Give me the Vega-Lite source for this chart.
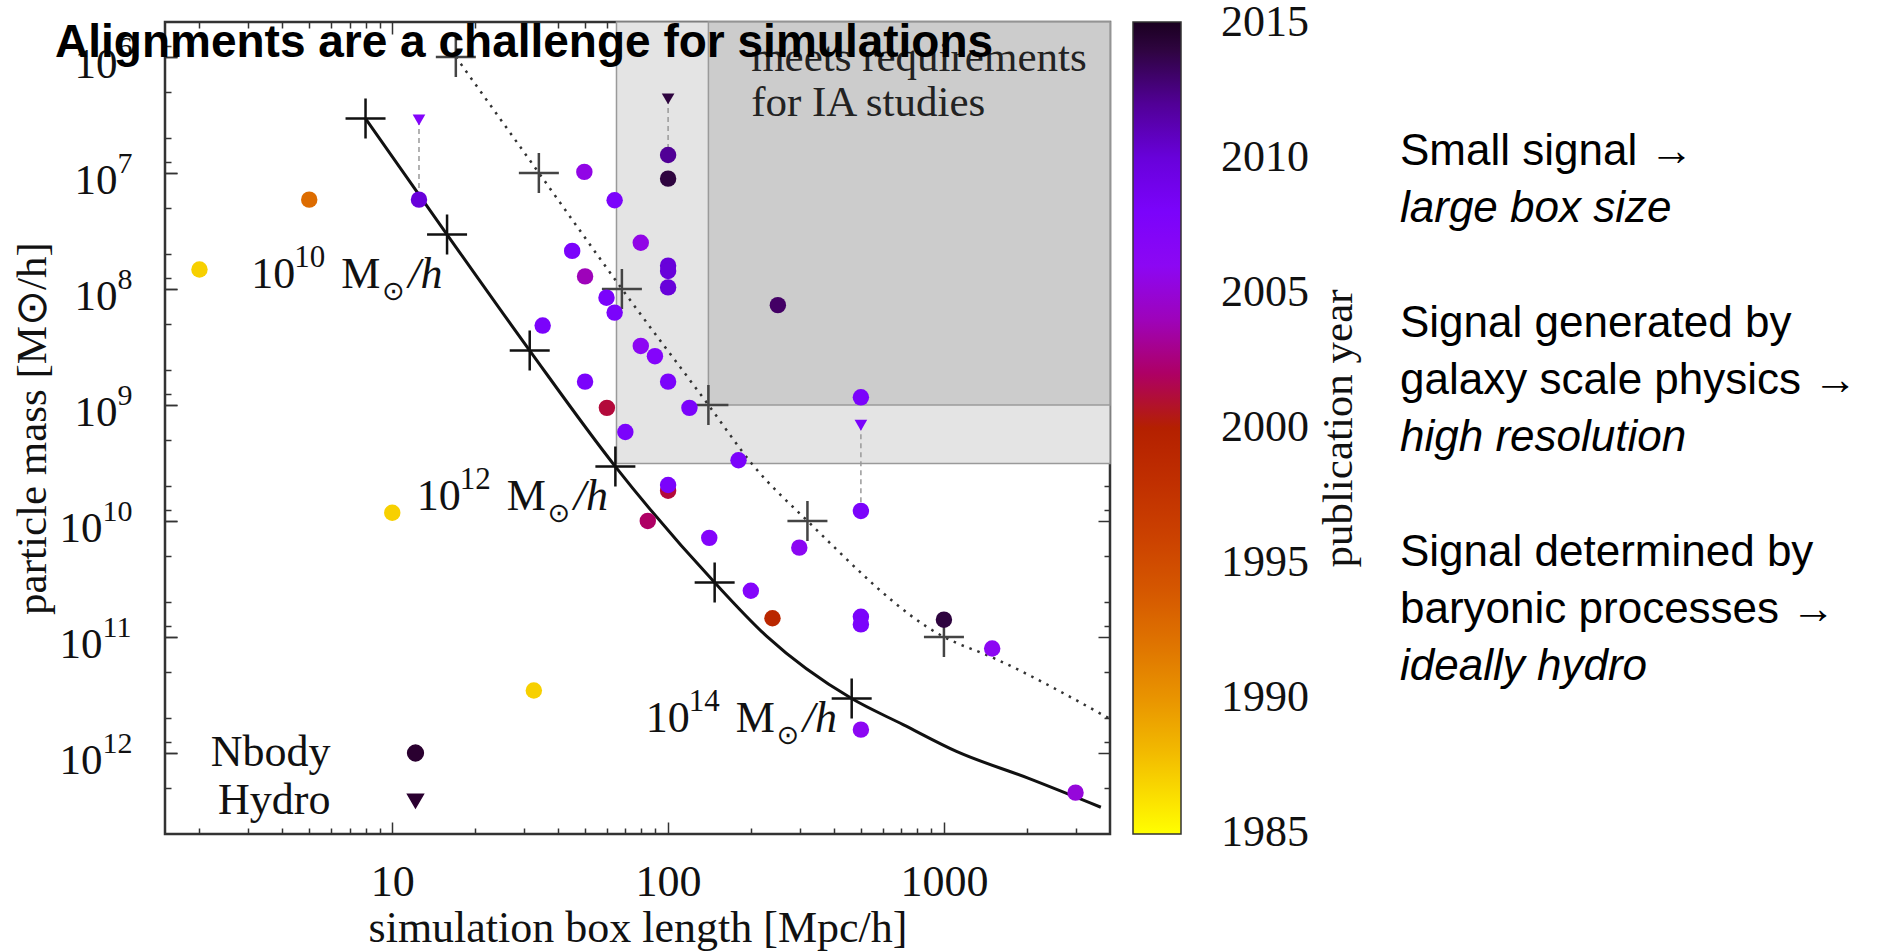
{
  "$schema": "https://vega.github.io/schema/vega-lite/v6.json",
  "background": "white",
  "padding": {"left": 9, "top": 19, "right": 0, "bottom": 0},
  "spacing": 6,
  "config": {
    "view": {"stroke": "#333", "strokeWidth": 2.5},
    "font": "Liberation Serif",
    "axis": {"domain": false, "grid": false, "tickColor": "#333", "tickWidth": 1.5, "labelFont": "Liberation Serif", "labelColor": "#111", "titleFont": "Liberation Serif", "titleFontWeight": "normal", "titleColor": "#111", "labelFlush": false, "labelOverlap": false}
  },
  "datasets": {
    "points": [
      {"type": "Nbody", "L": 2.0, "m": 68000000, "year": 1987},
      {"type": "Nbody", "L": 5.0, "m": 17000000, "year": 1992.5},
      {"type": "Nbody", "L": 10, "m": 8500000000, "year": 1987},
      {"type": "Nbody", "L": 32.6, "m": 290000000000, "year": 1987},
      {"type": "Nbody", "L": 12.5, "m": 17000000, "year": 2010},
      {"type": "Nbody", "L": 49.7, "m": 9800000, "year": 2005.5},
      {"type": "Nbody", "L": 64, "m": 17200000, "year": 2008},
      {"type": "Nbody", "L": 79.6, "m": 40000000, "year": 2005.5},
      {"type": "Nbody", "L": 44.9, "m": 47000000, "year": 2008},
      {"type": "Nbody", "L": 50, "m": 78000000, "year": 2004},
      {"type": "Nbody", "L": 100, "m": 7000000, "year": 2012},
      {"type": "Nbody", "L": 100, "m": 11200000, "year": 2014},
      {"type": "Nbody", "L": 100, "m": 63000000, "year": 2010},
      {"type": "Nbody", "L": 100, "m": 70000000, "year": 2010},
      {"type": "Nbody", "L": 100, "m": 97000000, "year": 2010},
      {"type": "Nbody", "L": 59.8, "m": 119000000, "year": 2008},
      {"type": "Nbody", "L": 64, "m": 160000000, "year": 2008},
      {"type": "Nbody", "L": 35.1, "m": 207000000, "year": 2008},
      {"type": "Nbody", "L": 79.6, "m": 310000000, "year": 2006},
      {"type": "Nbody", "L": 89.6, "m": 380000000, "year": 2007},
      {"type": "Nbody", "L": 50, "m": 630000000, "year": 2008},
      {"type": "Nbody", "L": 100, "m": 630000000, "year": 2008},
      {"type": "Nbody", "L": 60, "m": 1060000000, "year": 2001},
      {"type": "Nbody", "L": 119.5, "m": 1060000000, "year": 2008},
      {"type": "Nbody", "L": 70, "m": 1710000000, "year": 2008},
      {"type": "Nbody", "L": 100, "m": 5500000000, "year": 2001},
      {"type": "Nbody", "L": 100, "m": 4900000000, "year": 2008},
      {"type": "Nbody", "L": 84.4, "m": 10000000000, "year": 2002},
      {"type": "Nbody", "L": 250, "m": 138000000, "year": 2013},
      {"type": "Nbody", "L": 500, "m": 860000000, "year": 2008},
      {"type": "Nbody", "L": 500, "m": 8200000000, "year": 2008},
      {"type": "Nbody", "L": 180, "m": 3000000000, "year": 2008},
      {"type": "Nbody", "L": 141, "m": 14000000000, "year": 2007},
      {"type": "Nbody", "L": 299, "m": 17000000000, "year": 2006},
      {"type": "Nbody", "L": 199.5, "m": 40000000000, "year": 2007},
      {"type": "Nbody", "L": 239, "m": 69000000000, "year": 1999},
      {"type": "Nbody", "L": 500, "m": 67000000000, "year": 2008},
      {"type": "Nbody", "L": 500, "m": 78000000000, "year": 2008},
      {"type": "Nbody", "L": 1000, "m": 71000000000, "year": 2014},
      {"type": "Nbody", "L": 1496, "m": 126000000000, "year": 2006},
      {"type": "Nbody", "L": 500, "m": 630000000000, "year": 2006},
      {"type": "Nbody", "L": 3000, "m": 2200000000000, "year": 2005},
      {"type": "Hydro", "L": 12.5, "m": 3500000, "year": 2007},
      {"type": "Hydro", "L": 100, "m": 2300000, "year": 2014},
      {"type": "Hydro", "L": 500, "m": 1500000000, "year": 2008}
    ],
    "curves": [
      {"curve": "solid", "L": 8, "m": 3400000},
      {"curve": "solid", "L": 15.8, "m": 34000000},
      {"curve": "solid", "L": 31.5, "m": 340000000},
      {"curve": "solid", "L": 64.4, "m": 3400000000},
      {"curve": "solid", "L": 147.5, "m": 34000000000},
      {"curve": "solid", "L": 228, "m": 99000000000},
      {"curve": "solid", "L": 463, "m": 340000000000},
      {"curve": "solid", "L": 711, "m": 570000000000},
      {"curve": "solid", "L": 1110, "m": 970000000000},
      {"curve": "solid", "L": 2018, "m": 1650000000000},
      {"curve": "solid", "L": 3706, "m": 2940000000000},
      {"curve": "dotted", "L": 17, "m": 1000000},
      {"curve": "dotted", "L": 34, "m": 10000000},
      {"curve": "dotted", "L": 68, "m": 100000000},
      {"curve": "dotted", "L": 140, "m": 1000000000},
      {"curve": "dotted", "L": 203, "m": 3300000000},
      {"curve": "dotted", "L": 320, "m": 10000000000},
      {"curve": "dotted", "L": 1000, "m": 100000000000},
      {"curve": "dotted", "L": 1496, "m": 150000000000},
      {"curve": "dotted", "L": 3945, "m": 500000000000}
    ],
    "crosses": [
      {"curve": "solid", "L": 8, "m": 3400000},
      {"curve": "solid", "L": 15.8, "m": 34000000},
      {"curve": "solid", "L": 31.5, "m": 340000000},
      {"curve": "solid", "L": 64.4, "m": 3400000000},
      {"curve": "solid", "L": 147.5, "m": 34000000000},
      {"curve": "solid", "L": 463, "m": 340000000000},
      {"curve": "dotted", "L": 17, "m": 1000000},
      {"curve": "dotted", "L": 34, "m": 10000000},
      {"curve": "dotted", "L": 68, "m": 100000000},
      {"curve": "dotted", "L": 140, "m": 1000000000},
      {"curve": "dotted", "L": 320, "m": 10000000000},
      {"curve": "dotted", "L": 1000, "m": 100000000000}
    ],
    "pairs": [
      {"L": 12.5, "m_hydro": 3500000, "m_nbody": 17000000},
      {"L": 100, "m_hydro": 2300000, "m_nbody": 7000000},
      {"L": 500, "m_hydro": 1500000000, "m_nbody": 8200000000}
    ],
    "notes": [
      {"exp": "10", "L": 3.08, "m": 98600000},
      {"exp": "12", "L": 12.26, "m": 7980000000},
      {"exp": "14", "L": 83, "m": 660000000000}
    ],
    "side": [
      {"line": 0, "role": "cause", "text": "Small signal →"},
      {"line": 1, "role": "effect", "text": "large box size"},
      {"line": 3, "role": "cause", "text": "Signal generated by"},
      {"line": 4, "role": "cause", "text": "galaxy scale physics →"},
      {"line": 5, "role": "effect", "text": "high resolution"},
      {"line": 7, "role": "cause", "text": "Signal determined by"},
      {"line": 8, "role": "cause", "text": "baryonic processes →"},
      {"line": 9, "role": "effect", "text": "ideally hydro"}
    ]
  },
  "hconcat": [
    {
      "width": 945,
      "height": 812,
      "title": {"text": "Alignments are a challenge for simulations", "font": "Liberation Sans", "fontSize": 46, "fontWeight": "bold", "color": "#000", "anchor": "start", "frame": "group", "offset": 0, "dx": -110, "dy": 82, "baseline": "alphabetic"},
      "resolve": {"axis": {"x": "independent", "y": "independent"}},
      "layer": [
        {
          "data": {"values": [{"L0": 65, "L1": 4000, "m0": 500000, "m1": 3200000000}]},
          "mark": {"type": "rect", "fill": "#e4e4e4", "stroke": "#9a9a9a", "strokeWidth": 1.5},
          "encoding": {
            "x": {"field": "L0", "type": "quantitative", "scale": {"type": "log", "domain": [1.5, 4000], "nice": false},
              "axis": {"orient": "bottom", "values": [10, 100, 1000], "format": "d", "tickSize": -12, "labelFontSize": 44, "labelPadding": 38, "title": "simulation box length [Mpc/h]", "titleFontSize": 44, "titlePadding": 2}},
            "x2": {"field": "L1"},
            "y": {"field": "m0", "type": "quantitative", "scale": {"type": "log", "domain": [500000, 5000000000000], "nice": false, "reverse": true},
              "axis": {"orient": "left", "values": [1000000, 10000000, 100000000, 1000000000], "labelExpr": "'10'", "tickSize": -12, "labelFontSize": 43, "labelPadding": 60, "labelOffset": 8, "title": "particle mass [M⊙/h]", "titleFontSize": 43, "titlePadding": 20}},
            "y2": {"field": "m1"}
          }
        },
        {
          "data": {"values": [{"L0": 140, "L1": 4000, "m0": 500000, "m1": 1000000000}]},
          "mark": {"type": "rect", "fill": "#cccccc", "stroke": "#9a9a9a", "strokeWidth": 1.5},
          "encoding": {
            "x": {"field": "L0", "type": "quantitative", "scale": {"type": "log", "domain": [1.5, 4000], "nice": false},
              "axis": {"orient": "bottom", "values": [2,3,4,5,6,7,8,9,20,30,40,50,60,70,80,90,200,300,400,500,600,700,800,900,2000,3000], "labels": false, "tickSize": -6, "title": null}},
            "x2": {"field": "L1"},
            "y": {"field": "m0", "type": "quantitative", "scale": {"type": "log", "domain": [500000, 5000000000000], "nice": false, "reverse": true},
              "axis": {"orient": "left", "values": [800000, 2000000, 5000000, 8000000, 20000000, 50000000, 80000000, 200000000, 500000000, 800000000, 2000000000, 5000000000, 8000000000, 20000000000, 50000000000, 80000000000, 200000000000, 500000000000, 800000000000, 2000000000000], "labels": false, "tickSize": -6, "title": null}},
            "y2": {"field": "m1"}
          }
        },
        {
          "data": {"values": [{"t": "meets requirements", "L": 200, "m": 1330000}, {"t": "for IA studies", "L": 200, "m": 3240000}]},
          "mark": {"type": "text", "align": "left", "baseline": "alphabetic", "font": "Liberation Serif", "fontSize": 43, "color": "#222"},
          "encoding": {
            "x": {"field": "L", "type": "quantitative", "scale": {"type": "log", "domain": [1.5, 4000], "nice": false},
              "axis": {"orient": "top", "values": [10, 100, 1000], "labels": false, "tickSize": -12, "title": null}},
            "y": {"field": "m", "type": "quantitative", "scale": {"type": "log", "domain": [500000, 5000000000000], "nice": false, "reverse": true},
              "axis": {"orient": "right", "values": [1000000, 10000000, 100000000, 1000000000, 10000000000, 100000000000, 1000000000000], "labels": false, "tickSize": -12, "title": null}},
            "text": {"field": "t"}
          }
        },
        {
          "data": {"name": "curves"},
          "transform": [{"filter": "datum.curve == 'solid'"}],
          "mark": {"type": "line", "color": "#111", "strokeWidth": 3, "interpolate": "monotone"},
          "encoding": {
            "x": {"field": "L", "type": "quantitative", "scale": {"type": "log", "domain": [1.5, 4000], "nice": false},
              "axis": {"orient": "top", "values": [2,3,4,5,6,7,8,9,20,30,40,50,60,70,80,90,200,300,400,500,600,700,800,900,2000,3000], "labels": false, "tickSize": -6, "title": null}},
            "y": {"field": "m", "type": "quantitative", "scale": {"type": "log", "domain": [500000, 5000000000000], "nice": false, "reverse": true},
              "axis": {"orient": "right", "values": [800000, 2000000, 5000000, 8000000, 20000000, 50000000, 80000000, 200000000, 500000000, 800000000, 2000000000, 5000000000, 8000000000, 20000000000, 50000000000, 80000000000, 200000000000, 500000000000, 800000000000, 2000000000000], "labels": false, "tickSize": -6, "title": null}}
          }
        },
        {
          "data": {"name": "curves"},
          "transform": [{"filter": "datum.curve == 'dotted'"}],
          "mark": {"type": "line", "color": "#333", "strokeWidth": 2.5, "strokeDash": [2.5, 6], "interpolate": "monotone"},
          "encoding": {
            "x": {"field": "L", "type": "quantitative", "scale": {"type": "log", "domain": [1.5, 4000], "nice": false}, "axis": null},
            "y": {"field": "m", "type": "quantitative", "scale": {"type": "log", "domain": [500000, 5000000000000], "nice": false, "reverse": true},
              "axis": {"orient": "left", "values": [10000000000, 100000000000, 1000000000000], "labelExpr": "'10'", "tickSize": -12, "labelFontSize": 43, "labelPadding": 75, "labelOffset": 8, "title": null}}
          }
        },
        {
          "data": {"name": "crosses"},
          "mark": {"type": "point", "shape": "M-1,0H1M0,-1V1", "size": 1600, "filled": false, "strokeWidth": 2.5, "opacity": 1},
          "encoding": {
            "x": {"field": "L", "type": "quantitative", "scale": {"type": "log", "domain": [1.5, 4000], "nice": false}, "axis": null},
            "y": {"field": "m", "type": "quantitative", "scale": {"type": "log", "domain": [500000, 5000000000000], "nice": false, "reverse": true},
              "axis": {"orient": "left", "values": [1000000, 10000000, 100000000, 1000000000], "labelExpr": "'' + round(log(datum.value)/LN10)", "tickSize": -12, "labelFontSize": 30, "labelAlign": "left", "labelPadding": 60, "labelOffset": -9, "title": null}},
            "stroke": {"field": "curve", "type": "nominal", "scale": {"domain": ["solid", "dotted"], "range": ["#111111", "#444444"]}, "legend": null}
          }
        },
        {
          "data": {"name": "pairs"},
          "mark": {"type": "rule", "color": "#999", "strokeWidth": 1.5, "strokeDash": [5, 4]},
          "encoding": {
            "x": {"field": "L", "type": "quantitative", "scale": {"type": "log", "domain": [1.5, 4000], "nice": false}, "axis": null},
            "y": {"field": "m_hydro", "type": "quantitative", "scale": {"type": "log", "domain": [500000, 5000000000000], "nice": false, "reverse": true},
              "axis": {"orient": "left", "values": [10000000000, 100000000000, 1000000000000], "labelExpr": "'' + round(log(datum.value)/LN10)", "tickSize": -12, "labelFontSize": 30, "labelAlign": "left", "labelPadding": 75, "labelOffset": -9, "title": null}},
            "y2": {"field": "m_nbody"}
          }
        },
        {
          "data": {"name": "points"},
          "mark": {"type": "point", "filled": true, "opacity": 1, "strokeWidth": 0},
          "encoding": {
            "x": {"field": "L", "type": "quantitative", "scale": {"type": "log", "domain": [1.5, 4000], "nice": false}, "axis": null},
            "y": {"field": "m", "type": "quantitative", "scale": {"type": "log", "domain": [500000, 5000000000000], "nice": false, "reverse": true}, "axis": null},
            "size": {"field": "type", "type": "nominal", "scale": {"domain": ["Hydro", "Nbody"], "range": [160, 270]}, "legend": null},
            "shape": {"field": "type", "type": "nominal", "scale": {"domain": ["Nbody", "Hydro"], "range": ["circle", "triangle-down"]},
              "legend": {"orient": "none", "legendX": 228.5, "legendY": 709, "title": null, "padding": 0, "labelFont": "Liberation Serif", "labelFontSize": 44, "labelColor": "#111", "labelAlign": "right", "labelOffset": -107, "symbolSize": 250, "rowPadding": 4, "symbolFillColor": "#2a0030", "symbolStrokeColor": "#2a0030"}},
            "color": {"field": "year", "type": "quantitative",
              "scale": {"domain": [1984.98, 1986.5, 1988, 1989.5, 1991, 1992.5, 1994, 1995.5, 1997, 1998.5, 2000, 2001.5, 2003, 2004.5, 2006, 2007.5, 2009, 2010.5, 2012, 2013.5, 2015.02],
                "range": ["#ffff00", "#f9db00", "#f2ba00", "#eb9d00", "#e48300", "#dd6c00", "#d55700", "#ce4600", "#c63700", "#bd2a00", "#b42000", "#ab174f", "#a11096", "#970bce", "#8c07f3", "#8004ff", "#7202f3", "#6301ce", "#510096", "#39004f", "#1a0020"]},
              "legend": {"orient": "right", "direction": "vertical", "offset": 22, "padding": 0, "gradientLength": 812, "gradientThickness": 48, "gradientStrokeColor": "#333", "gradientStrokeWidth": 1.5,
                "values": [1985, 1990, 1995, 2000, 2005, 2010, 2015], "format": "d", "labelFont": "Liberation Serif", "labelFontSize": 44, "labelColor": "#111", "labelOffset": 40, "labelOverlap": false, "title": null}}
          }
        },
        {
          "data": {"name": "notes"},
          "mark": {"type": "text", "align": "left", "baseline": "alphabetic", "font": "Liberation Serif", "fontSize": 44, "color": "#111"},
          "encoding": {
            "x": {"field": "L", "type": "quantitative", "scale": {"type": "log", "domain": [1.5, 4000], "nice": false}, "axis": null},
            "y": {"field": "m", "type": "quantitative", "scale": {"type": "log", "domain": [500000, 5000000000000], "nice": false, "reverse": true}, "axis": null},
            "text": {"value": "10"}
          }
        },
        {
          "data": {"name": "notes"},
          "mark": {"type": "text", "align": "left", "baseline": "alphabetic", "font": "Liberation Serif", "fontSize": 31, "color": "#111", "dx": 43, "dy": -21},
          "encoding": {
            "x": {"field": "L", "type": "quantitative", "scale": {"type": "log", "domain": [1.5, 4000], "nice": false}, "axis": null},
            "y": {"field": "m", "type": "quantitative", "scale": {"type": "log", "domain": [500000, 5000000000000], "nice": false, "reverse": true}, "axis": null},
            "text": {"field": "exp"}
          }
        },
        {
          "data": {"name": "notes"},
          "mark": {"type": "text", "align": "left", "baseline": "alphabetic", "font": "Liberation Serif", "fontSize": 44, "color": "#111", "dx": 90},
          "encoding": {
            "x": {"field": "L", "type": "quantitative", "scale": {"type": "log", "domain": [1.5, 4000], "nice": false}, "axis": null},
            "y": {"field": "m", "type": "quantitative", "scale": {"type": "log", "domain": [500000, 5000000000000], "nice": false, "reverse": true}, "axis": null},
            "text": {"value": "M"}
          }
        },
        {
          "data": {"name": "notes"},
          "mark": {"type": "text", "align": "left", "baseline": "middle", "font": "DejaVu Sans", "fontSize": 27, "color": "#111", "dx": 131, "dy": 4},
          "encoding": {
            "x": {"field": "L", "type": "quantitative", "scale": {"type": "log", "domain": [1.5, 4000], "nice": false}, "axis": null},
            "y": {"field": "m", "type": "quantitative", "scale": {"type": "log", "domain": [500000, 5000000000000], "nice": false, "reverse": true}, "axis": null},
            "text": {"value": "⊙"}
          }
        },
        {
          "data": {"name": "notes"},
          "mark": {"type": "text", "align": "left", "baseline": "alphabetic", "font": "Liberation Serif", "fontSize": 44, "fontStyle": "italic", "color": "#111", "dx": 157},
          "encoding": {
            "x": {"field": "L", "type": "quantitative", "scale": {"type": "log", "domain": [1.5, 4000], "nice": false}, "axis": null},
            "y": {"field": "m", "type": "quantitative", "scale": {"type": "log", "domain": [500000, 5000000000000], "nice": false, "reverse": true}, "axis": null},
            "text": {"value": "/h"}
          }
        }
      ]
    },
    {
      "width": 480,
      "height": 812,
      "view": {"stroke": null},
      "data": {"name": "side"},
      "layer": [
        {
          "transform": [{"filter": "datum.role == 'cause'"}],
          "mark": {"type": "text", "align": "left", "baseline": "alphabetic", "font": "Liberation Sans", "fontSize": 44, "color": "#000"},
          "encoding": {
            "x": {"value": 0},
            "y": {"field": "line", "type": "quantitative", "scale": {"domain": [-2.49, 11.68], "reverse": true, "nice": false, "zero": false},
              "axis": {"orient": "left", "title": "publication year", "labels": false, "ticks": false, "domain": false, "titleFont": "Liberation Serif", "titleFontSize": 43, "titleFontWeight": "normal", "titleColor": "#111", "titleAngle": 270, "titlePadding": 40}},
            "text": {"field": "text"}
          }
        },
        {
          "transform": [{"filter": "datum.role == 'effect'"}],
          "mark": {"type": "text", "align": "left", "baseline": "alphabetic", "font": "Liberation Sans", "fontSize": 44, "fontStyle": "italic", "color": "#000"},
          "encoding": {
            "x": {"value": 0},
            "y": {"field": "line", "type": "quantitative", "scale": {"domain": [-2.49, 11.68], "reverse": true, "nice": false, "zero": false}},
            "text": {"field": "text"}
          }
        }
      ]
    }
  ],
  "resolve": {"scale": {"color": "independent", "shape": "independent", "size": "independent", "stroke": "independent"}, "legend": {"color": "independent", "shape": "independent"}}
}
